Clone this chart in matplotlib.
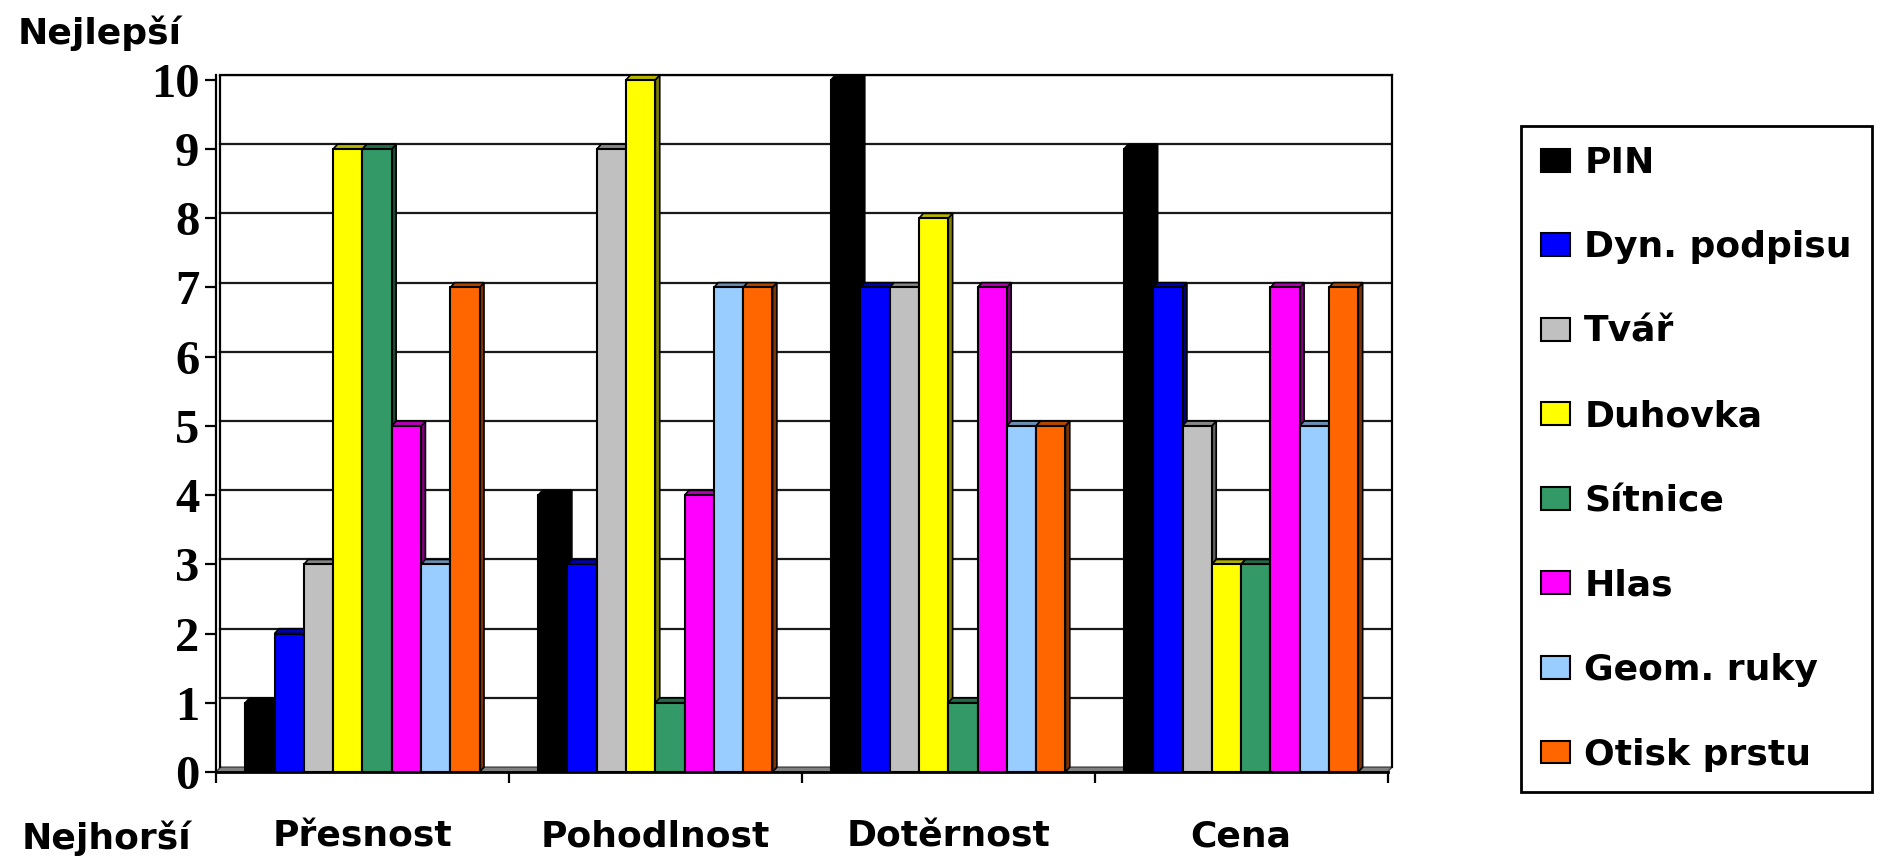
import matplotlib.pyplot as plt
import matplotlib.colors as mcolors
from matplotlib.patches import Polygon, Patch
import numpy as np

categories = ["Přesnost", "Pohodlnost", "Dotěrnost", "Cena"]
series = ["PIN", "Dyn. podpisu", "Tvář", "Duhovka", "Sítnice", "Hlas", "Geom. ruky", "Otisk prstu"]
colors = ["#000000", "#0000FF", "#C0C0C0", "#FFFF00", "#339966", "#FF00FF", "#99CCFF", "#FF6600"]

pin = [1, 4, 10, 9]
dyn_podpisu = [2, 3, 7, 7]
tvar = [3, 9, 7, 5]
duhovka = [9, 10, 8, 3]
sitnice = [9, 1, 1, 3]
hlas = [5, 4, 7, 7]
geom_ruky = [3, 7, 5, 5]
otisk_prstu = [7, 7, 5, 7]
values = [pin, dyn_podpisu, tvar, duhovka, sitnice, hlas, geom_ruky, otisk_prstu]

yticks = list(range(0, 11))

# hloubka "3D" efektu
dx, dy = 0.015, 0.07
w = 0.1

fig = plt.figure(figsize=(18.8, 8.61), dpi=100)
ax = fig.add_axes([0.1149, 0.1034, 0.6255, 0.8095])
ax.set_xlim(0, 4 + dx)
ax.set_ylim(0, 10 + dy)

# podlaha a zadni stena
ax.add_patch(Polygon([(0, 0), (4, 0), (4 + dx, dy), (dx, dy)], closed=True,
                     facecolor="#808080", edgecolor="#404040", lw=1, zorder=1))
for k in yticks[1:]:
    ax.plot([dx, 4 + dx], [k + dy, k + dy], color="#1a1a1a", lw=1.6, zorder=1)
ax.plot([dx, dx], [dy, 10 + dy], color="black", lw=1.6, zorder=1)
ax.plot([4 + dx, 4 + dx], [dy, 10 + dy], color="black", lw=1.6, zorder=1, clip_on=False)
ax.plot([dx, 4 + dx], [10 + dy, 10 + dy], color="black", lw=1.6, zorder=1, clip_on=False)


def shade(c, f):
    r, g, b = mcolors.to_rgb(c)
    return (r * f, g * f, b * f)


z = 2
for g in range(len(categories)):
    for i, vals in enumerate(values):
        v = vals[g]
        x0 = g + 0.1 + i * w
        x1 = x0 + w
        c = colors[i]
        ax.add_patch(Polygon([(x1, 0), (x1 + dx, dy), (x1 + dx, v + dy), (x1, v)], closed=True,
                             facecolor=shade(c, 0.5), edgecolor="black", lw=1.2, zorder=z, clip_on=False))
        ax.add_patch(Polygon([(x0, v), (x1, v), (x1 + dx, v + dy), (x0 + dx, v + dy)], closed=True,
                             facecolor=shade(c, 0.7), edgecolor="black", lw=1.2, zorder=z, clip_on=False))
        ax.bar(x0, v, width=w, align="edge", color=c, edgecolor="black", lw=1.5, zorder=z + 0.5)
        z += 1

for s in ["top", "right", "bottom"]:
    ax.spines[s].set_visible(False)
ax.spines["left"].set_linewidth(1.6)
ax.plot([0, 4], [0, 0], color="black", lw=2, zorder=z + 1, clip_on=False)

ax.set_yticks(yticks)
ax.set_yticklabels([str(t) for t in yticks], fontfamily="Liberation Serif",
                   fontweight="bold", fontsize=35)
ax.tick_params(axis="y", length=8, width=1.6, pad=4)

ax.set_xticks([0, 1, 2, 3, 4], minor=True)
ax.tick_params(axis="x", which="minor", length=8, width=1.6)
ax.set_xticks([0.5, 1.5, 2.5, 3.5])
ax.set_xticklabels(categories, fontfamily="DejaVu Sans", fontweight="bold", fontsize=26)
ax.tick_params(axis="x", which="major", length=0, pad=34)

fig.text(18 / 1880, 1 - 33 / 861, "Nejlepší", fontsize=26, fontweight="bold", va="center", ha="left")
fig.text(22 / 1880, 1 - 838 / 861, "Nejhorší", fontsize=26, fontweight="bold", va="center", ha="left")

handles = [Patch(facecolor=c, edgecolor="black", lw=1.5) for c in colors]
leg = fig.legend(handles, series, loc="upper left", bbox_to_anchor=(1521 / 1880, 1 - 126 / 861),
                 prop={"family": "DejaVu Sans", "weight": "bold", "size": 26},
                 frameon=True, fancybox=False, edgecolor="black", framealpha=1,
                 handlelength=0.8, handleheight=0.6, handletextpad=0.4,
                 labelspacing=1.4, borderpad=0.55, borderaxespad=0)
leg.get_frame().set_linewidth(2)

fig.savefig("out.png", dpi=100)
